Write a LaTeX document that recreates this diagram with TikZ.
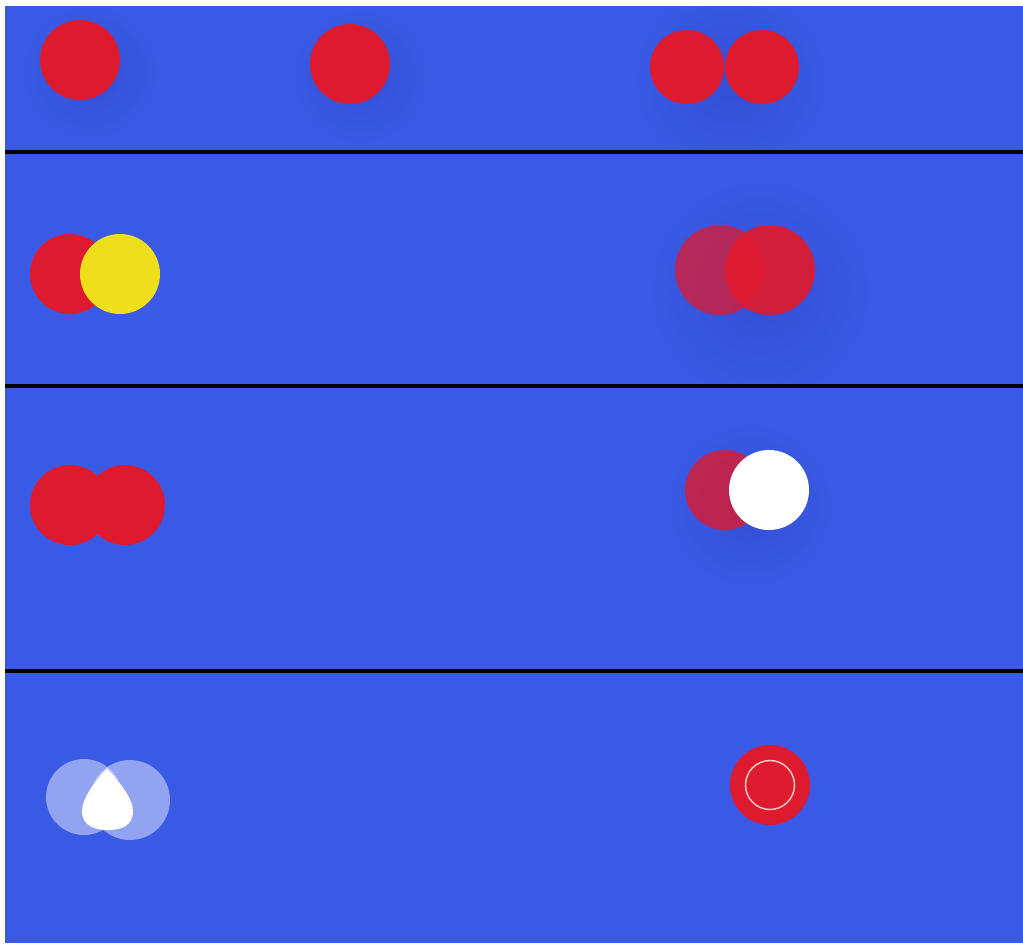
\documentclass[tikz,border=0pt]{standalone}
\usepackage{tikz}
\usetikzlibrary{positioning}
\definecolor{bgblue}{RGB}{58,90,230}
\definecolor{shadowblue}{RGB}{50,78,210}
\definecolor{ballred}{RGB}{222,26,46}
\definecolor{ballyellow}{RGB}{238,222,28}
\definecolor{ringpink}{RGB}{250,200,200}

\begin{document}
\begin{tikzpicture}[x=0.02cm, y=-0.02cm,
    ball/.style={circle, inner sep=0pt, outer sep=0pt, minimum size=1.6cm},
    redball/.style={ball, fill=ballred},
    fadedball/.style={ball, fill=ballred, fill opacity=0.75},
    ghostball/.style={ball, fill=white, fill opacity=0.45},
    divider/.style={line width=2.3pt, black}]
  % canvas
  \useasboundingbox (0,0) rectangle (1023,943);
  \fill[white] (0,0) rectangle (1023,943);
  \fill[bgblue] (5,6) rectangle (1023,943);
  % soft shadows, kept inside their band
  \foreach \sx/\sy/\sr/\top/\bot in {90/72/70/6/150, 360/76/70/6/150, 730/80/100/6/150,
      760/290/115/154/384, 750/505/85/388/669}
    {\begin{scope}
       \clip (5,\top) rectangle (1023,\bot);
       \shade[inner color=shadowblue, outer color=bgblue] (\sx,\sy) circle (\sr);
     \end{scope}}
  % row 1
  \node[redball] (single) at (80,60) {};
  \node[redball] (lone) at (350,64) {};
  \node[redball, minimum size=1.48cm] (pairL) at (687,67) {};
  \node[redball, minimum size=1.48cm] (pairR) at (762,67) {};
  \draw[divider] (5,152) -- (1023,152);
  % row 2
  \node[redball] (mixL) at (70,274) {};
  \node[ball, fill=ballyellow] (mixR) at (120,274) {};
  \node[fadedball, minimum size=1.8cm] (dimL) at (720,270) {};
  \node[redball, minimum size=1.8cm, fill opacity=0.92] (dimR) at (770,270) {};
  \draw[divider] (5,386) -- (1023,386);
  % row 3
  \node[redball] (mergeL) at (70,505) {};
  \node[redball] (mergeR) at (125,505) {};
  \node[fadedball, fill opacity=0.8] (coverL) at (725,490) {};
  \node[ball, fill=white] (coverR) at (769,490) {};
  \draw[divider] (5,671) -- (1023,671);
  % row 4
  \node[ghostball, minimum size=1.52cm] (ghostL) at (84,797) {};
  \node[ghostball] (ghostR) at (130,800) {};
  \fill[white] (107,769) .. controls (96,780) and (82,798) .. (82,811)
    .. controls (82,826) and (95,830) .. (108,830)
    .. controls (121,830) and (133,826) .. (133,811)
    .. controls (133,798) and (118,780) .. (107,769) -- cycle;
  \node[redball] (target) at (770,785) {};
  \node[circle, draw=ringpink, line width=0.85pt, inner sep=0pt, minimum size=0.98cm] (ring) at (target) {};
\end{tikzpicture}
\end{document}
